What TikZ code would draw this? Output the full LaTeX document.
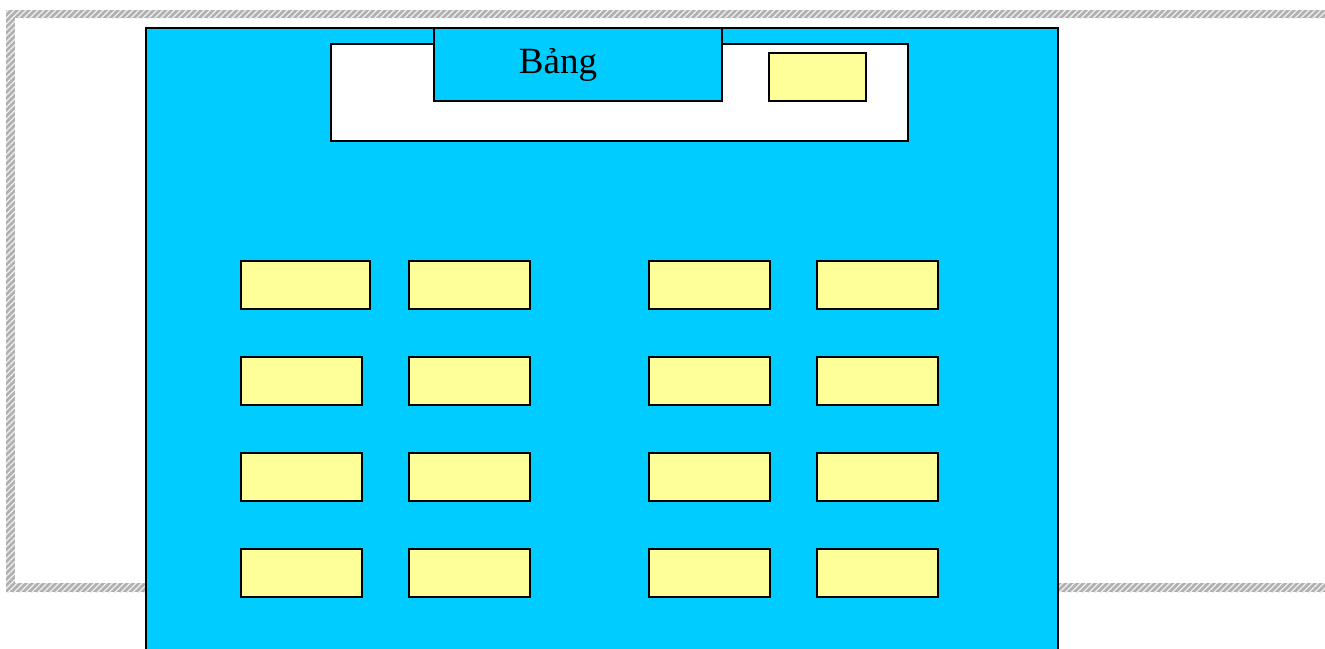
\documentclass[tikz,border=0pt]{standalone}
\usepackage{fontspec}
\setmainfont{Liberation Serif}
\usetikzlibrary{patterns.meta}
\definecolor{roomblue}{RGB}{0,204,255}
\definecolor{deskyellow}{RGB}{255,255,153}
\definecolor{framegrey}{RGB}{176,176,176}

\begin{document}
\begin{tikzpicture}[x=1pt, y=-1pt,
  hatch/.style={fill=framegrey, postaction={pattern={Lines[angle=45, distance=4.2pt, line width=1.4pt]}, pattern color=white!85!gray}},
  box/.style={draw, line width=2.2pt, rectangle, inner sep=0pt, anchor=north west},
  desk/.style={box, fill=deskyellow, minimum width=121pt, minimum height=48pt},
]
  \useasboundingbox (0,0) rectangle (1325,648);
  % page frame behind the room
  \fill[hatch] (6,10) rectangle (1325,18);
  \fill[hatch] (6,10) rectangle (15,592);
  \fill[hatch] (6,583) rectangle (1325,592);
  % room
  \begin{scope}
    \clip (0,0) rectangle (1325,648);
    \node[box, fill=roomblue, minimum width=912pt, minimum height=640pt] (room) at (145,27) {};
  \end{scope}
  \node[box, fill=white, minimum width=577pt, minimum height=97pt] (front) at (330,43) {};
  \node[box, fill=roomblue, minimum width=288pt, minimum height=73pt] (board) at (433,27) {};
  \node[anchor=base, font=\fontsize{37}{40}\selectfont] (boardlabel) at (558,73) {Bảng};
  \node[desk, minimum width=97pt] (teacher) at (768,52) {};
  % desks
  \foreach \r/\y in {1/260, 2/356, 3/452, 4/548}
    \foreach \c/\x in {1/240, 2/408, 3/648, 4/816}
      \node[desk] (desk\r\c) at (\x,\y) {};
  \node[desk, minimum width=129pt] (desk11) at (240,260) {};
\end{tikzpicture}
\end{document}
